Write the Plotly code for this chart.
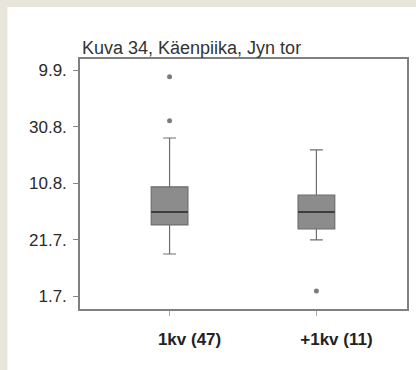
import plotly.graph_objects as go

# Flight dates as days after 1 July
groups = ["1kv (47)", "+1kv (11)"]
positions = [0, 1]
q1 = [25.2, 23.8]
medians = [29.8, 29.8]
q3 = [38.7, 35.8]
lower_whisker = [14.9, 19.9]
upper_whisker = [56.0, 51.8]

outlier_group = [0, 0, 1]
outlier_days = [77.7, 62.1, 1.8]

tick_days = [0, 20, 40, 60, 80]
tick_labels = ["1.7.", "21.7.", "10.8.", "30.8.", "9.9."]

BOX_W = 0.25

fig = go.Figure()

for i, name in enumerate(groups):
    fig.add_trace(go.Box(
        x=[positions[i]],
        q1=[q1[i]], median=[medians[i]], q3=[q3[i]],
        lowerfence=[lower_whisker[i]], upperfence=[upper_whisker[i]],
        width=BOX_W, whiskerwidth=0.35,
        fillcolor="#8c8c8c",
        line=dict(color="#6e6e6e", width=1.2),
        boxpoints=False, showlegend=False, name=name,
    ))
    # darker median stroke across the box
    fig.add_trace(go.Scatter(
        x=[positions[i] - BOX_W / 2, positions[i] + BOX_W / 2],
        y=[medians[i], medians[i]],
        mode="lines", line=dict(color="#2b2b2b", width=1.6),
        showlegend=False, hoverinfo="skip",
    ))

fig.add_trace(go.Scatter(
    x=[positions[g] for g in outlier_group], y=outlier_days,
    mode="markers", marker=dict(color="#7c7c7c", size=5),
    showlegend=False,
))

W, H = 416, 370
fig.update_layout(
    width=W, height=H,
    margin=dict(l=80, r=7, t=59, b=61),
    paper_bgcolor="#e8e6da", plot_bgcolor="white",
    font=dict(family="Liberation Sans, Arial, sans-serif", color="#2a2a2a", size=12),
    title=dict(text="Kuva 34, Käenpiika, Jyn tor", xref="container", x=82 / W,
               xanchor="left", yref="container", y=1 - 54 / H, yanchor="bottom",
               pad=dict(l=0, r=0, t=0, b=0),
               font=dict(size=18, color="#333333")),
    xaxis=dict(range=[-0.61, 1.617], tickvals=positions,
               ticktext=["<b>" + g + "</b>" for g in groups],
               showgrid=False, zeroline=False, showline=True, mirror=True,
               linecolor="#808080", linewidth=1.5, ticks="outside", ticklen=5,
               tickcolor="#aaaaaa", ticklabelstandoff=9, ticklabelshift=20,
               tickfont=dict(size=17, color="#222222")),
    yaxis=dict(range=[-4.6, 84.0], tickvals=tick_days, ticktext=tick_labels,
               showgrid=False, zeroline=False, showline=True, mirror=True,
               linecolor="#808080", linewidth=1.5, ticks="outside", ticklen=5,
               tickcolor="#888888", ticklabelstandoff=3,
               tickfont=dict(size=17, color="#2a2a2a")),
    shapes=[
        # white page inside the beige frame
        dict(type="rect", xref="paper", yref="paper", layer="below",
             x0=-73 / 329, x1=1.2, y0=-0.5, y1=1 + 52 / 250,
             fillcolor="white", line=dict(width=0)),
    ],
)

fig.write_html("out.html")
